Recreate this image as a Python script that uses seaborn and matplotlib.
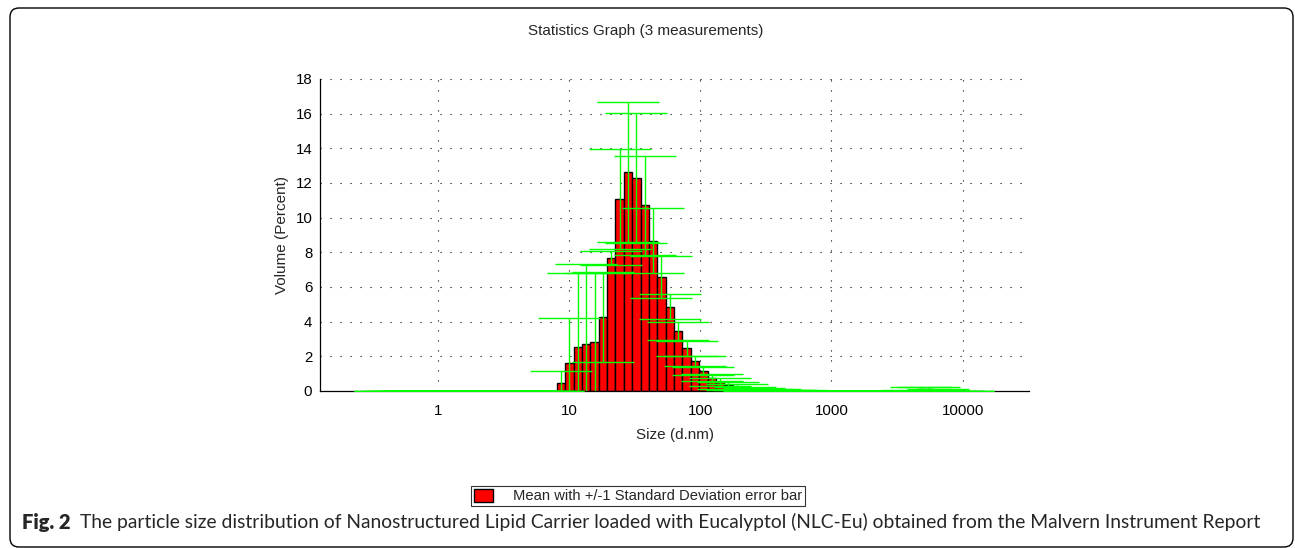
import numpy as np
import matplotlib
matplotlib.use("Agg")
import matplotlib.pyplot as plt
import matplotlib.patches as mpatches
import matplotlib.ticker as mticker
import seaborn as sns

# ---- data ----
sizes = [0.4, 0.4632, 0.5365, 0.6213, 0.7195, 0.8332, 0.9649, 1.117, 1.294, 1.499,
         1.736, 2.010, 2.328, 2.696, 3.122, 3.615, 4.187, 4.849, 5.615, 6.503,
         7.531, 8.721, 10.10, 11.70, 13.54, 15.69, 18.17, 21.04, 24.36, 28.21,
         32.67, 37.84, 43.82, 50.75, 58.77, 68.06, 78.82, 91.28, 105.7, 122.4,
         141.8, 164.2, 190.1, 220.2, 255.0, 295.3, 342.0, 396.1, 458.7, 531.2,
         615.1, 712.4, 825.0, 955.4, 1106, 1281, 1484, 1718, 1990, 2305,
         2669, 3091, 3580, 4145, 4801, 5560, 6439, 7456, 8635, 10000]

volume = [0, 0, 0, 0, 0, 0, 0, 0, 0, 0,
          0, 0, 0, 0, 0, 0, 0, 0, 0, 0,
          0, 0.48, 1.63, 2.52, 2.71, 2.81, 4.25, 7.66, 11.08, 12.64,
          12.31, 10.71, 8.66, 6.58, 4.87, 3.46, 2.46, 1.73, 1.15, 0.77,
          0.52, 0.34, 0.22, 0.14, 0.09, 0.06, 0.04, 0.03, 0.02, 0.01,
          0.01, 0, 0, 0, 0, 0, 0, 0, 0, 0,
          0, 0, 0, 0.03, 0.1, 0.1, 0.04, 0, 0, 0]

std_dev = [0, 0, 0, 0, 0, 0, 0, 0, 0, 0,
           0, 0, 0, 0, 0, 0, 0, 0, 0, 0,
           0, 0.67, 2.56, 4.3, 4.6, 4.02, 2.6, 0.4, 2.9, 4.05,
           3.75, 2.86, 1.88, 1.2, 0.7, 0.54, 0.42, 0.3, 0.25, 0.21,
           0.21, 0.2, 0.18, 0.11, 0.09, 0.08, 0.06, 0.04, 0.03, 0.02,
           0.01, 0, 0, 0, 0, 0, 0, 0, 0, 0,
           0, 0, 0, 0.04, 0.12, 0.12, 0.05, 0, 0, 0]

x_ticks = [1, 10, 100, 1000, 10000]
y_ticks = [0, 2, 4, 6, 8, 10, 12, 14, 16, 18]

title = "Statistics Graph (3 measurements)"
legend_label = "Mean with +/-1 Standard Deviation error bar"
caption_bold = "Fig. 2"
caption_text = ("The particle size distribution of Nanostructured Lipid Carrier loaded "
                "with Eucalyptol (NLC-Eu) obtained from the Malvern Instrument Report")

# ---- style ----
sns.set_style("white")
plt.rcParams["font.family"] = ["Liberation Sans", "DejaVu Sans"]
plt.rcParams["font.size"] = 10.8

W, H = 1295, 548
fig = plt.figure(figsize=(W / 100, H / 100), dpi=100)
ax = fig.add_axes([320 / W, 1 - 391 / H, (1029 - 320) / W, (391 - 79) / H])

# bin edges in log10 units, half a bin either side of each size
logs = np.log10(sizes)
half = (logs[1] - logs[0]) / 2
edges = np.concatenate([[logs[0] - half], (logs[:-1] + logs[1:]) / 2, [logs[-1] + half]])

sns.histplot(x=sizes, weights=volume, bins=edges.tolist(), log_scale=True, ax=ax,
             color="#ff0000", alpha=1, edgecolor="black", linewidth=1.0,
             label=legend_label)

ax.errorbar(sizes, volume, yerr=std_dev, fmt="none", ecolor="#00ff00",
            elinewidth=1.0, capsize=22, capthick=1.0, zorder=3)

ax.set_xscale("log")
ax.set_xlim(0.127, 32000)
ax.set_ylim(0, 18)

ax.xaxis.set_major_locator(mticker.FixedLocator(x_ticks))
ax.xaxis.set_major_formatter(mticker.FixedFormatter([str(t) for t in x_ticks]))
ax.xaxis.set_minor_locator(mticker.LogLocator(base=10, subs=np.arange(2, 10)))
ax.xaxis.set_minor_formatter(mticker.NullFormatter())
ax.yaxis.set_major_locator(mticker.FixedLocator(y_ticks))
ax.yaxis.set_minor_locator(mticker.MultipleLocator(1))

ax.tick_params(which="both", direction="inout", color="black", width=0.8)
ax.tick_params(which="major", length=7, labelsize=10.8, labelcolor="black", pad=2)
ax.tick_params(which="minor", length=6)
ax.tick_params(axis="x", which="major", pad=6)

ax.set_axisbelow(True)
ax.grid(True, which="major", color="black", linestyle=(0, (1, 8)), linewidth=0.8)

sns.despine(ax=ax, top=True, right=True)
for s in ["left", "bottom"]:
    ax.spines[s].set_color("black")
    ax.spines[s].set_linewidth(0.9)

ax.set_xlabel("Size (d.nm)", fontsize=11, labelpad=7)
ax.set_ylabel("Volume (Percent)", fontsize=11, labelpad=5)

fig.text(646 / W, 1 - 31 / H, title, ha="center", va="center", fontsize=11)

leg = fig.legend(handles=[mpatches.Patch(facecolor="#ff0000", edgecolor="black",
                                          linewidth=1.0)],
                 labels=[legend_label], loc="center",
                 bbox_to_anchor=(638 / W, 1 - 496 / H), fontsize=10.6,
                 frameon=True, fancybox=False, handlelength=1.3, handleheight=1.0,
                 handletextpad=1.4, borderpad=0.2, borderaxespad=0)
leg.get_frame().set_edgecolor("black")
leg.get_frame().set_linewidth(0.8)

# caption under the legend
cap_font = ["Lato", "DejaVu Sans"]
t1 = fig.text(22 / W, 1 - 522 / H, caption_bold, ha="left", va="center",
              fontsize=14.5, fontweight="heavy", family=cap_font)
r = fig.canvas.get_renderer()
bb = t1.get_window_extent(r)
t2 = fig.text((bb.x1 + 10) / W, 1 - 522 / H, caption_text, ha="left", va="center",
              fontsize=12.5, family=cap_font)
bb2 = t2.get_window_extent(r)
t2.set_fontsize(12.5 * (1263 - bb.x1 - 10) / bb2.width)

# rounded frame around the figure
frame = mpatches.FancyBboxPatch((10, 1), 1283, 539,
                                boxstyle="round,pad=0,rounding_size=9",
                                transform=None, fill=False, edgecolor="black",
                                linewidth=1.0)
fig.add_artist(frame)

fig.savefig("out.png", dpi=100)
